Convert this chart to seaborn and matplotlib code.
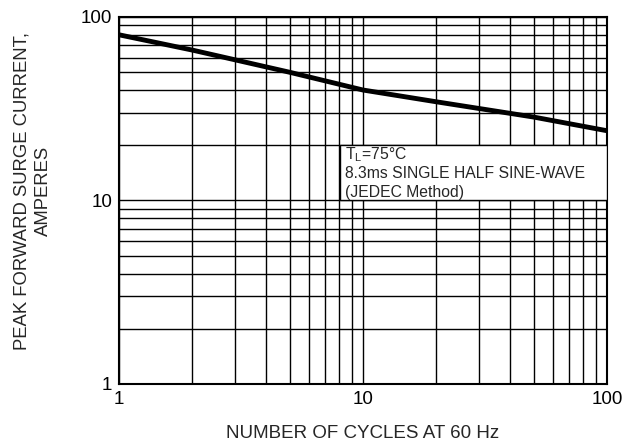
import matplotlib
matplotlib.use("Agg")
import matplotlib.pyplot as plt
import seaborn as sns
import pandas as pd
from matplotlib.patches import Rectangle
from matplotlib.ticker import FixedLocator, NullFormatter, FixedFormatter

cycles = [1, 2, 5, 10, 20, 50, 100]
current = [80, 66, 50, 40, 34.5, 28.5, 24]
tick_vals = [1, 10, 100]
tick_labels = ["1", "10", "100"]

sns.set_theme(style="white")
plt.rcParams['font.family'] = ['Liberation Sans', 'DejaVu Sans']

fig = plt.figure(figsize=(6.39, 4.48), dpi=100)
ax = fig.add_axes([119/639, 1-384/448, (607-119)/639, (384-17)/448])

df = pd.DataFrame({"cycles": cycles, "current": current})
ax.set_xscale("log")
ax.set_yscale("log")
ax.set_xlim(1, 100)
ax.set_ylim(1, 100)

minor = [m * d for d in (1, 10) for m in range(2, 10)]
ax.xaxis.set_major_locator(FixedLocator(tick_vals))
ax.yaxis.set_major_locator(FixedLocator(tick_vals))
ax.xaxis.set_minor_locator(FixedLocator(minor))
ax.yaxis.set_minor_locator(FixedLocator(minor))
ax.xaxis.set_major_formatter(FixedFormatter(tick_labels))
ax.yaxis.set_major_formatter(FixedFormatter(tick_labels))
ax.xaxis.set_minor_formatter(NullFormatter())
ax.yaxis.set_minor_formatter(NullFormatter())
ax.grid(True, which="both", color="black", linewidth=1.0)
ax.tick_params(which="both", length=0, labelsize=13.5, colors="black")
ax.tick_params(axis="x", pad=5)
ax.tick_params(axis="y", pad=5)
for s in ax.spines.values():
    s.set_color("black")
    s.set_linewidth(1.5)

sns.lineplot(data=df, x="cycles", y="current", ax=ax, color="black", linewidth=3.5, zorder=5)

rect = Rectangle((8.05, 10), 100 - 8.05, 10, facecolor="white", edgecolor="black",
                 linewidth=1.0, zorder=3)
ax.add_patch(rect)
ax.text(8.44, 17.7, r"T$_{\mathregular{L}}$=75°C", fontsize=11.3, zorder=6, va="center")
ax.text(8.44, 14.1, "8.3ms SINGLE HALF SINE-WAVE", fontsize=11.3, zorder=6, va="center")
ax.text(8.44, 11.1, "(JEDEC Method)", fontsize=11.3, zorder=6, va="center")

ax.set_xlabel("NUMBER OF CYCLES AT 60 Hz", fontsize=13.5)
ax.set_ylabel("PEAK FORWARD SURGE CURRENT,\nAMPERES", fontsize=13.3, linespacing=1.35)
ax.xaxis.set_label_coords(0.5, -0.112)
ax.yaxis.set_label_coords(-0.137, 0.525)

fig.savefig("out.png", dpi=100)
